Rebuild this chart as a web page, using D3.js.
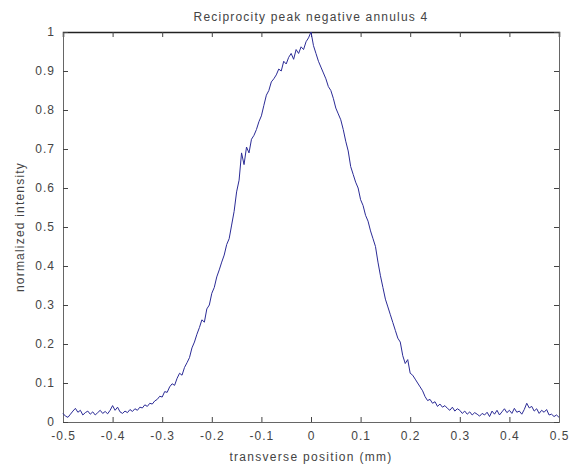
<!DOCTYPE html>
<html>
<head>
<meta charset="utf-8">
<script src="https://cdn.jsdelivr.net/npm/d3@7/dist/d3.min.js"></script>
<style>
  html, body { margin: 0; padding: 0; background: #fff; }
  svg { display: block; }
  text { font-family: "Liberation Sans", Arial, sans-serif; fill: #444; }
</style>
</head>
<body>
<svg id="chart" width="571" height="474"></svg>
<script>
// ---- data ----
const titleText = "Reciprocity peak negative annulus 4";
const xLabelText = "transverse position  (mm)";
const yLabelText = "normalized intensity";
const xTicks = [-0.5, -0.4, -0.3, -0.2, -0.1, 0, 0.1, 0.2, 0.3, 0.4, 0.5];
const yTicks = [0, 0.1, 0.2, 0.3, 0.4, 0.5, 0.6, 0.7, 0.8, 0.9, 1];
const xStart = -0.5;
const xStep = 0.005;
const intensity = [
  0.022, 0.015, 0.012, 0.020, 0.028, 0.035, 0.025, 0.030, 0.018, 0.024,
  0.028, 0.020, 0.026, 0.018, 0.024, 0.030, 0.022, 0.027, 0.021, 0.030,
  0.042, 0.030, 0.038, 0.026, 0.022, 0.028, 0.024, 0.032, 0.027, 0.034,
  0.030, 0.038, 0.036, 0.044, 0.040, 0.048, 0.046, 0.054, 0.058, 0.066,
  0.064, 0.078, 0.076, 0.090, 0.098, 0.094, 0.112, 0.125, 0.120, 0.140,
  0.152, 0.165, 0.190, 0.205, 0.225, 0.242, 0.262, 0.256, 0.290, 0.300,
  0.330, 0.345, 0.372, 0.390, 0.410, 0.428, 0.455, 0.470, 0.505, 0.540,
  0.590, 0.620, 0.690, 0.660, 0.705, 0.690, 0.725, 0.735, 0.750, 0.770,
  0.785, 0.812, 0.838, 0.850, 0.872, 0.880, 0.890, 0.905, 0.900, 0.925,
  0.918, 0.935, 0.945, 0.930, 0.955, 0.945, 0.962, 0.955, 0.975, 0.985,
  1.000, 0.965, 0.945, 0.925, 0.910, 0.895, 0.880, 0.860, 0.850, 0.830,
  0.805, 0.790, 0.775, 0.750, 0.720, 0.695, 0.655, 0.635, 0.615, 0.600,
  0.570, 0.555, 0.530, 0.515, 0.490, 0.470, 0.450, 0.410, 0.375, 0.345,
  0.315, 0.295, 0.275, 0.255, 0.235, 0.215, 0.205, 0.170, 0.150, 0.160,
  0.125, 0.120, 0.110, 0.100, 0.090, 0.080, 0.065, 0.055, 0.058, 0.048,
  0.052, 0.040, 0.046, 0.038, 0.042, 0.035, 0.030, 0.038, 0.028, 0.034,
  0.030, 0.022, 0.028, 0.020, 0.026, 0.018, 0.024, 0.020, 0.015, 0.022,
  0.018, 0.025, 0.014, 0.028, 0.020, 0.030, 0.018, 0.026, 0.034, 0.024,
  0.030, 0.022, 0.035, 0.025, 0.028, 0.020, 0.032, 0.048, 0.036, 0.040,
  0.028, 0.034, 0.022, 0.030, 0.025, 0.032, 0.018, 0.020, 0.014, 0.018,
  0.012
];

// ---- layout ----
const svg = d3.select("#chart");
const mLeft = 63, mRight = 559, mTop = 32, mBottom = 422;
const x = d3.scaleLinear().domain([-0.5, 0.5]).range([mLeft, mRight]);
const y = d3.scaleLinear().domain([0, 1]).range([mBottom, mTop]);
const fmt = d => String(+(+d).toFixed(1));

const points = intensity.map((v, i) => ({ x: xStart + i * xStep, y: v }));

// axes (ticks inward)
const tickLen = 5;
const gB = svg.append("g").attr("transform", `translate(0,${mBottom})`)
  .call(d3.axisBottom(x).tickValues(xTicks).tickSize(-tickLen).tickPadding(9).tickFormat(fmt));
const gT = svg.append("g").attr("transform", `translate(0,${mTop})`)
  .call(d3.axisTop(x).tickValues(xTicks).tickSize(-tickLen).tickFormat(""));
const gL = svg.append("g").attr("transform", `translate(${mLeft},0)`)
  .call(d3.axisLeft(y).tickValues(yTicks).tickSize(-tickLen).tickPadding(8).tickFormat(fmt));
const gR = svg.append("g").attr("transform", `translate(${mRight},0)`)
  .call(d3.axisRight(y).tickValues(yTicks).tickSize(-tickLen).tickFormat(""));

[gB, gT, gL, gR].forEach(g => {
  g.select(".domain").attr("stroke", "#666").attr("stroke-width", 1);
  g.selectAll(".tick line").attr("stroke", "#444");
  g.selectAll(".tick text").attr("font-size", 12)
    .attr("font-family", "'Liberation Sans', Arial, sans-serif")
    .attr("fill", "#444").attr("letter-spacing", "1px");
});
gT.select(".domain").attr("stroke", "#222").attr("stroke-width", 1.5);

// line
const line = d3.line().x(d => x(d.x)).y(d => y(d.y));
svg.append("path").datum(points)
  .attr("d", line)
  .attr("fill", "none")
  .attr("stroke", "#2b2b96")
  .attr("stroke-width", 1);

// title & labels
svg.append("text").attr("x", (mLeft + mRight) / 2).attr("y", 21)
  .attr("text-anchor", "middle").attr("font-size", 12)
  .attr("letter-spacing", "1.2px").text(titleText);
svg.append("text").attr("x", (mLeft + mRight) / 2).attr("y", 461)
  .attr("text-anchor", "middle").attr("font-size", 12)
  .attr("letter-spacing", "1.3px").text(xLabelText);
svg.append("text")
  .attr("transform", `translate(24,${(mTop + mBottom) / 2}) rotate(-90)`)
  .attr("text-anchor", "middle").attr("font-size", 12)
  .attr("letter-spacing", "1.2px").text(yLabelText);
</script>
</body>
</html>
